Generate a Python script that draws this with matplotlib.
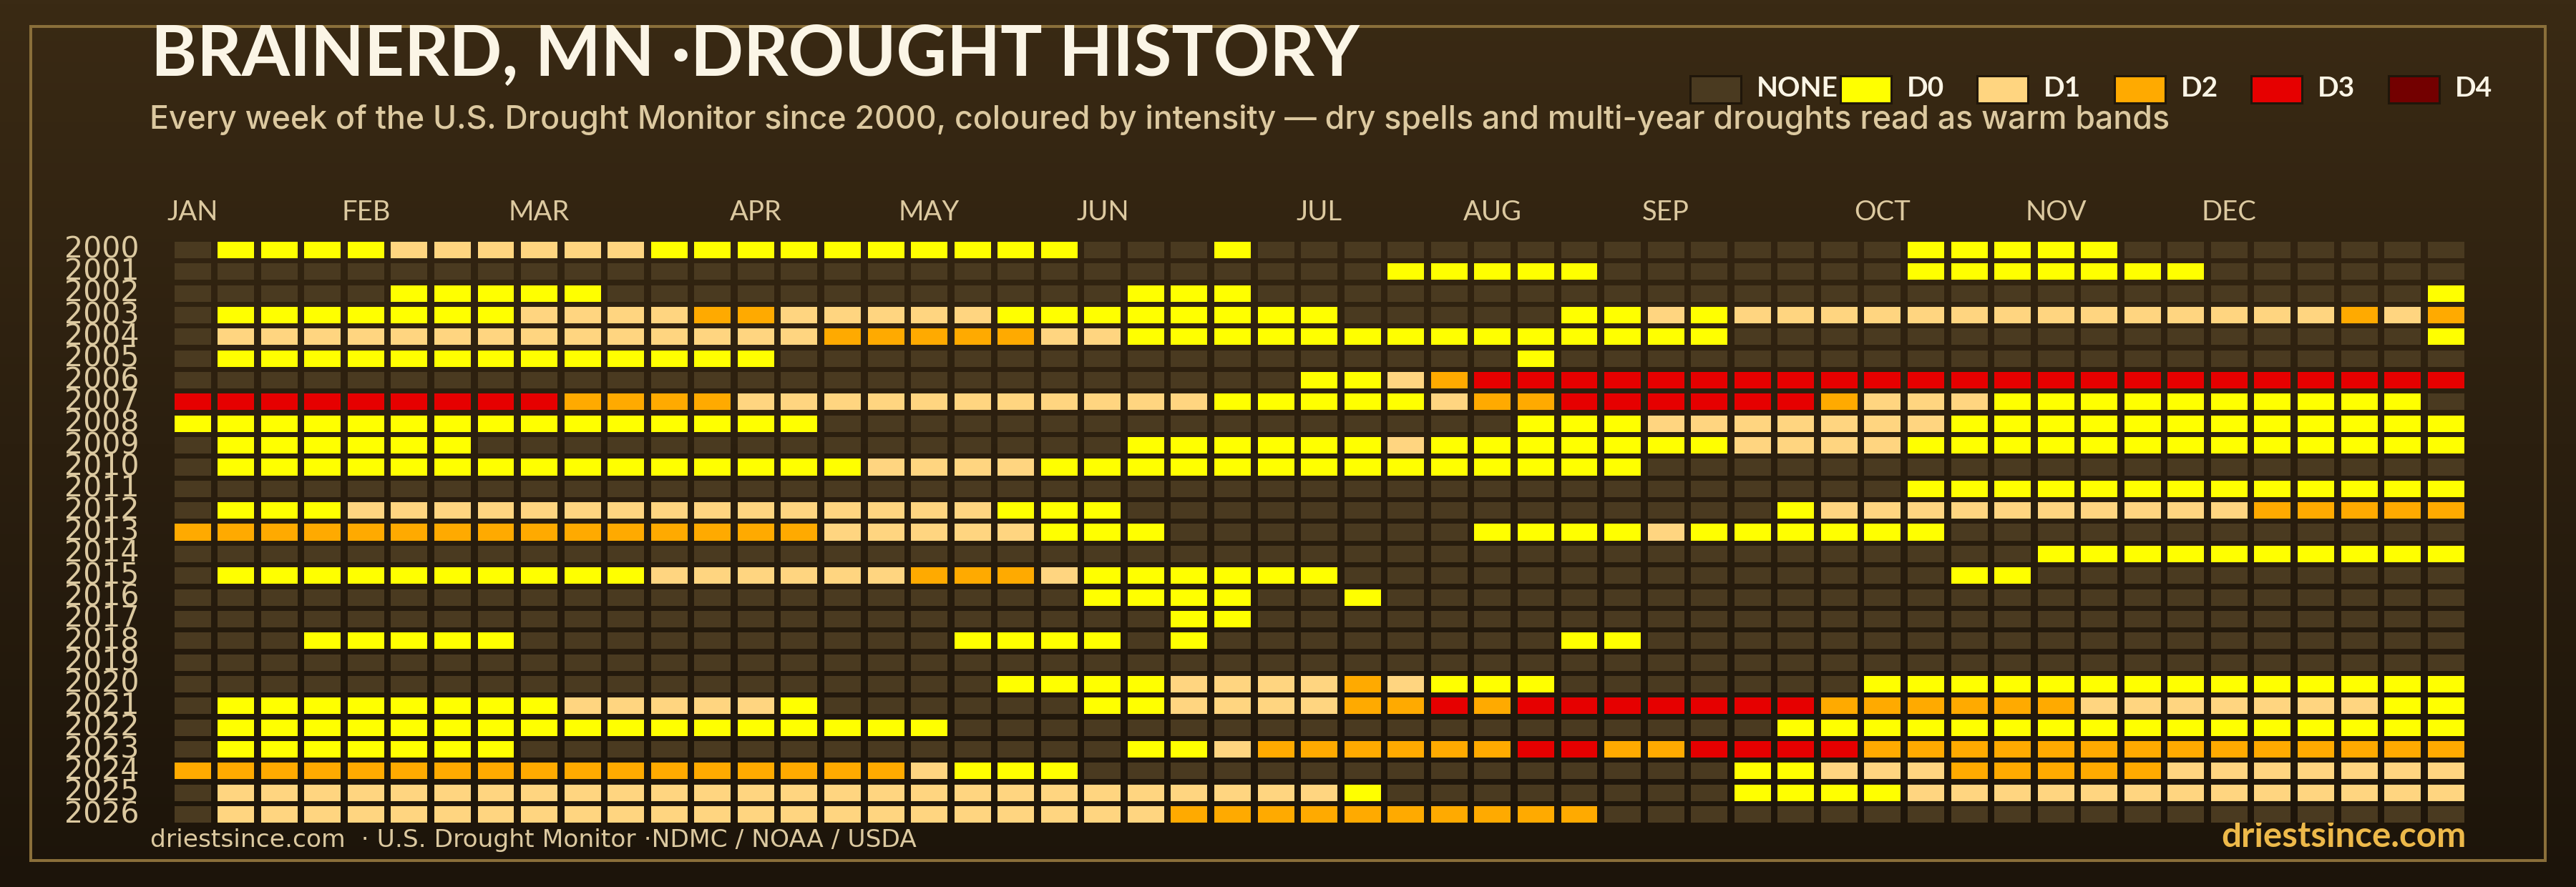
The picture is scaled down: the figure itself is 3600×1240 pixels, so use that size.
import matplotlib
matplotlib.use("Agg")
import matplotlib.pyplot as plt
from matplotlib.patches import Rectangle
from matplotlib.colors import LinearSegmentedColormap
from matplotlib.transforms import ScaledTranslation
import numpy as np

# drought level per week: 0 none, 1 D0, 2 D1, 3 D2, 4 D3, 5 D4
y2000 = [0,1,1,1,1,2,2,2,2,2,2,1,1,1,1,1,1,1,1,1,1,0,0,0,1,0,0,0,0,0,0,0,0,0,0,0,0,0,0,0,1,1,1,1,1,0,0,0,0,0,0,0,0]
y2001 = [0,0,0,0,0,0,0,0,0,0,0,0,0,0,0,0,0,0,0,0,0,0,0,0,0,0,0,0,1,1,1,1,1,0,0,0,0,0,0,0,1,1,1,1,1,1,1,0,0,0,0,0,0]
y2002 = [0,0,0,0,0,1,1,1,1,1,0,0,0,0,0,0,0,0,0,0,0,0,1,1,1,0,0,0,0,0,0,0,0,0,0,0,0,0,0,0,0,0,0,0,0,0,0,0,0,0,0,0,1]
y2003 = [0,1,1,1,1,1,1,1,2,2,2,2,3,3,2,2,2,2,2,1,1,1,1,1,1,1,1,0,0,0,0,0,1,1,2,1,2,2,2,2,2,2,2,2,2,2,2,2,2,2,3,2,3]
y2004 = [0,2,2,2,2,2,2,2,2,2,2,2,2,2,2,3,3,3,3,3,2,2,1,1,1,1,1,1,1,1,1,1,1,1,1,1,0,0,0,0,0,0,0,0,0,0,0,0,0,0,0,0,1]
y2005 = [0,1,1,1,1,1,1,1,1,1,1,1,1,1,0,0,0,0,0,0,0,0,0,0,0,0,0,0,0,0,0,1,0,0,0,0,0,0,0,0,0,0,0,0,0,0,0,0,0,0,0,0,0]
y2006 = [0,0,0,0,0,0,0,0,0,0,0,0,0,0,0,0,0,0,0,0,0,0,0,0,0,0,1,1,2,3,4,4,4,4,4,4,4,4,4,4,4,4,4,4,4,4,4,4,4,4,4,4,4]
y2007 = [4,4,4,4,4,4,4,4,4,3,3,3,3,2,2,2,2,2,2,2,2,2,2,2,1,1,1,1,1,2,3,3,4,4,4,4,4,4,3,2,2,2,1,1,1,1,1,1,1,1,1,1,0]
y2008 = [1,1,1,1,1,1,1,1,1,1,1,1,1,1,1,0,0,0,0,0,0,0,0,0,0,0,0,0,0,0,0,1,1,1,2,2,2,2,2,2,2,1,1,1,1,1,1,1,1,1,1,1,1]
y2009 = [0,1,1,1,1,1,1,0,0,0,0,0,0,0,0,0,0,0,0,0,0,0,1,1,1,1,1,1,2,1,1,1,1,1,1,1,2,2,2,2,1,1,1,1,1,1,1,1,1,1,1,1,1]
y2010 = [0,1,1,1,1,1,1,1,1,1,1,1,1,1,1,1,2,2,2,2,1,1,1,1,1,1,1,1,1,1,1,1,1,1,0,0,0,0,0,0,0,0,0,0,0,0,0,0,0,0,0,0,0]
y2011 = [0,0,0,0,0,0,0,0,0,0,0,0,0,0,0,0,0,0,0,0,0,0,0,0,0,0,0,0,0,0,0,0,0,0,0,0,0,0,0,0,1,1,1,1,1,1,1,1,1,1,1,1,1]
y2012 = [0,1,1,1,2,2,2,2,2,2,2,2,2,2,2,2,2,2,2,1,1,1,0,0,0,0,0,0,0,0,0,0,0,0,0,0,0,1,2,2,2,2,2,2,2,2,2,2,3,3,3,3,3]
y2013 = [3,3,3,3,3,3,3,3,3,3,3,3,3,3,3,2,2,2,2,2,1,1,1,0,0,0,0,0,0,0,1,1,1,1,2,1,1,1,1,1,1,0,0,0,0,0,0,0,0,0,0,0,0]
y2014 = [0,0,0,0,0,0,0,0,0,0,0,0,0,0,0,0,0,0,0,0,0,0,0,0,0,0,0,0,0,0,0,0,0,0,0,0,0,0,0,0,0,0,0,1,1,1,1,1,1,1,1,1,1]
y2015 = [0,1,1,1,1,1,1,1,1,1,1,2,2,2,2,2,2,3,3,3,2,1,1,1,1,1,1,0,0,0,0,0,0,0,0,0,0,0,0,0,0,1,1,0,0,0,0,0,0,0,0,0,0]
y2016 = [0,0,0,0,0,0,0,0,0,0,0,0,0,0,0,0,0,0,0,0,0,1,1,1,1,0,0,1,0,0,0,0,0,0,0,0,0,0,0,0,0,0,0,0,0,0,0,0,0,0,0,0,0]
y2017 = [0,0,0,0,0,0,0,0,0,0,0,0,0,0,0,0,0,0,0,0,0,0,0,1,1,0,0,0,0,0,0,0,0,0,0,0,0,0,0,0,0,0,0,0,0,0,0,0,0,0,0,0,0]
y2018 = [0,0,0,1,1,1,1,1,0,0,0,0,0,0,0,0,0,0,1,1,1,1,0,1,0,0,0,0,0,0,0,0,1,1,0,0,0,0,0,0,0,0,0,0,0,0,0,0,0,0,0,0,0]
y2019 = [0,0,0,0,0,0,0,0,0,0,0,0,0,0,0,0,0,0,0,0,0,0,0,0,0,0,0,0,0,0,0,0,0,0,0,0,0,0,0,0,0,0,0,0,0,0,0,0,0,0,0,0,0]
y2020 = [0,0,0,0,0,0,0,0,0,0,0,0,0,0,0,0,0,0,0,1,1,1,1,2,2,2,2,3,2,1,1,1,0,0,0,0,0,0,0,1,1,1,1,1,1,1,1,1,1,1,1,1,1]
y2021 = [0,1,1,1,1,1,1,1,1,2,2,2,2,2,1,0,0,0,0,0,0,1,1,2,2,2,2,3,3,4,3,4,4,4,4,4,4,4,3,3,3,3,3,3,2,2,2,2,2,2,2,1,1]
y2022 = [0,1,1,1,1,1,1,1,1,1,1,1,1,1,1,1,1,1,0,0,0,0,0,0,0,0,0,0,0,0,0,0,0,0,0,0,0,1,1,1,1,1,1,1,1,1,1,1,1,1,1,1,1]
y2023 = [0,1,1,1,1,1,1,1,0,0,0,0,0,0,0,0,0,0,0,0,0,0,1,1,2,3,3,3,3,3,3,4,4,3,3,4,4,4,4,3,3,3,3,3,3,3,3,3,3,3,3,3,3]
y2024 = [3,3,3,3,3,3,3,3,3,3,3,3,3,3,3,3,3,2,1,1,1,0,0,0,0,0,0,0,0,0,0,0,0,0,0,0,1,1,2,2,2,3,3,3,3,3,2,2,2,2,2,2,2]
y2025 = [0,2,2,2,2,2,2,2,2,2,2,2,2,2,2,2,2,2,2,2,2,2,2,2,2,2,2,1,0,0,0,0,0,0,0,0,1,1,1,1,2,2,2,2,2,2,2,2,2,2,2,2,2]
y2026 = [0,2,2,2,2,2,2,2,2,2,2,2,2,2,2,2,2,2,2,2,2,2,2,3,3,3,3,3,3,3,3,3,3,0,0,0,0,0,0,0,0,0,0,0,0,0,0,0,0,0,0,0,0]

weeks_by_year = [y2000, y2001, y2002, y2003, y2004, y2005, y2006, y2007, y2008,
                 y2009, y2010, y2011, y2012, y2013, y2014, y2015, y2016, y2017,
                 y2018, y2019, y2020, y2021, y2022, y2023, y2024, y2025, y2026]
years = list(range(2000, 2027))
month_names = ["JAN", "FEB", "MAR", "APR", "MAY", "JUN", "JUL", "AUG", "SEP", "OCT", "NOV", "DEC"]
month_weeks = [0, 4, 8, 13, 17, 21, 26, 30, 34, 39, 43, 47]
level_names = ["NONE", "D0", "D1", "D2", "D3", "D4"]
level_colors = ["#4A3A20", "#FFFF00", "#FFD580", "#FFAA00", "#E60000", "#730000"]

W, H = 3600, 1240
CREAM = "#FBF5E6"
TAN = "#DCC9A0"
GOLD = "#8A6F3A"
SANS = "Lato"

fig = plt.figure(figsize=(W / 100, H / 100), dpi=100)

# page background + all loose decoration, axes in pixels
bg = fig.add_axes([0, 0, 1, 1])
bg.set_xlim(0, W)
bg.set_ylim(H, 0)
bg.axis("off")
cmap = LinearSegmentedColormap.from_list("page", ["#3A2A14", "#1C140A"])
bg.imshow(np.linspace(0, 1, 256).reshape(-1, 1), cmap=cmap, aspect="auto", extent=[0, W, H, 0], zorder=0)
bg.add_patch(Rectangle((43, 37), 3514, 1166, fill=False, ec=GOLD, lw=2.9, zorder=1))

bg.text(211, 106, "BRAINERD, MN ·DROUGHT HISTORY", color=CREAM, fontsize=70, fontweight="bold",
        family=SANS, va="baseline", zorder=3)
bg.text(209, 180, "Every week of the U.S. Drought Monitor since 2000, coloured by intensity \u2014 dry spells and multi-year droughts read as warm bands",
        color=TAN, fontsize=32.15, fontweight="medium", family="Inter", va="baseline", zorder=3)
bg.text(210, 1184, "driestsince.com  · U.S. Drought Monitor ·NDMC / NOAA / USDA", color=TAN, fontsize=24.8,
        family="DejaVu Sans", va="baseline", zorder=3)
bg.text(3447, 1184, "driestsince.com", color="#EDB94A", fontsize=35.5, fontweight="bold", family=SANS,
        ha="right", va="baseline", zorder=3)

# legend, hand placed like the original
swatch_left = [2361.5, 2571.5, 2762.5, 2954.5, 3145.5, 3338]
for i, name in enumerate(level_names):
    bg.add_patch(Rectangle((swatch_left[i], 105.5), 71, 38, fc=level_colors[i], ec="#1F160A", lw=2.2, zorder=2))
    bg.text(swatch_left[i] + 93, 135, name, color=CREAM, fontsize=28, fontweight="bold", family=SANS,
            va="baseline", zorder=3)

# heatmap
cell_w, cell_h = 60.56, 30.35
ax = fig.add_axes([238.8 / W, 1 - (334.3 + 27 * cell_h) / H, 53 * cell_w / W, 27 * cell_h / H])
ax.patch.set_alpha(0)
week_idx = np.arange(53)
for row, levels in enumerate(weeks_by_year):
    colors = [level_colors[v] for v in levels]
    ax.bar(week_idx, 0.76, width=0.842, bottom=row - 0.38, color=colors, linewidth=0)
ax.set_xlim(-0.5, 52.5)
ax.set_ylim(26.5, -0.5)
for s in ax.spines.values():
    s.set_visible(False)

ax.xaxis.tick_top()
ax.set_xticks(month_weeks, month_names, family=SANS, fontsize=27.5, color=TAN)
ax.set_yticks(range(27), years, family="DejaVu Sans", fontsize=29.5, color=TAN)
ax.tick_params(axis="x", length=0, pad=14)
ax.tick_params(axis="y", length=0, pad=32)
# year labels sit a little above the row centre
nudge = ScaledTranslation(0, 4 / 100, fig.dpi_scale_trans)
for lab in ax.get_yticklabels():
    lab.set_transform(lab.get_transform() + nudge)

fig.savefig("out.png", dpi=100)
